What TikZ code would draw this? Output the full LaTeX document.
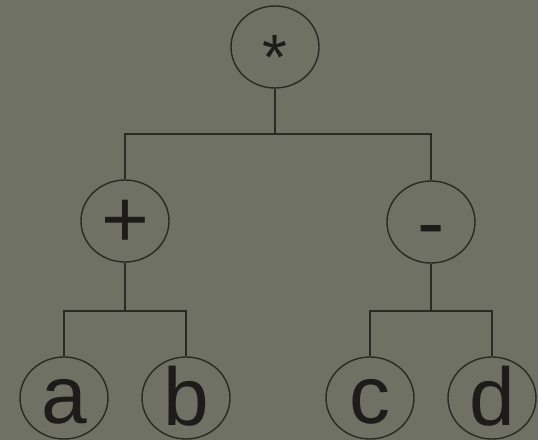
\documentclass[tikz,border=0pt]{standalone}
\usepackage{fontspec}
\setmainfont{Liberation Sans}
\usetikzlibrary{shapes.geometric}
\definecolor{fondo}{HTML}{6E7163}
\definecolor{trazo}{HTML}{2A2A25}
\definecolor{letra}{HTML}{1E1C1A}
% glifo bajado y sin altura, para centrarlo en el nodo
\newcommand\glifo[2]{\raisebox{-#1}[0pt][0pt]{#2}}
\tikzset{
  nodo/.style  = {draw=trazo, ellipse, line width=0.7pt, inner sep=0pt,
                  minimum width=44pt, minimum height=41pt, text=letra,
                  font=\fontsize{41}{41}\selectfont},
  rama/.style  = {draw=trazo, line width=1pt},
}

\begin{document}
\begin{tikzpicture}[x=0.5pt, y=-0.5pt]
  \fill[fondo] (0,0) rectangle (538,440);
  \useasboundingbox (0,0) rectangle (538,440);
  % operadores
  \node[nodo] (mult)  at (275,47)  {\fontsize{32}{32}\selectfont\glifo{0.5em}{*}};
  \node[nodo] (suma)  at (125,221) {\glifo{0.32em}{+}};
  \node[nodo] (resta) at (431,222) {\glifo{0.35em}{-}};
  % hojas
  \node[nodo] (a) at (64,398)  {\glifo{0.31em}{a}};
  \node[nodo] (b) at (186,398) {\glifo{0.34em}{b}};
  \node[nodo] (c) at (370,398) {\glifo{0.31em}{c}};
  \node[nodo] (d) at (492,398) {\glifo{0.34em}{d}};
  % ramas
  \coordinate (barra)    at (275,134);
  \coordinate (barraizq) at (125,311);
  \coordinate (barrader) at (431,311);
  \draw[rama] (mult) -- (barra) -| (suma);
  \draw[rama] (barra) -| (resta);
  \draw[rama] (suma) -- (barraizq) -| (a);
  \draw[rama] (barraizq) -| (b);
  \draw[rama] (resta) -- (barrader) -| (c);
  \draw[rama] (barrader) -| (d);
\end{tikzpicture}
\end{document}
